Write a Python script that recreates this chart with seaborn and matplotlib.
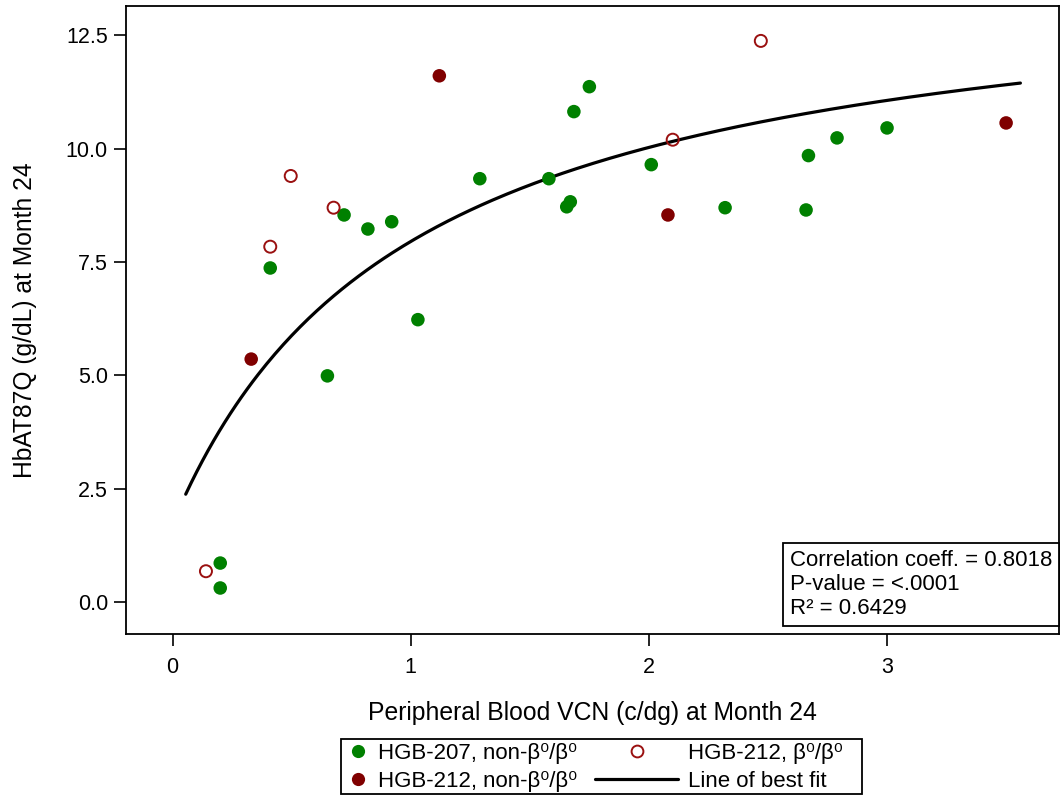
import numpy as np
import matplotlib
matplotlib.use("Agg")
import matplotlib.pyplot as plt
import seaborn as sns
from matplotlib.lines import Line2D
from matplotlib.patches import Rectangle

# ---- data ----
g207_x = [0.20, 0.20, 0.41, 0.65, 0.72, 0.82, 0.92, 1.03, 1.29, 1.58, 1.655, 1.67, 1.685, 1.75,
          2.01, 2.32, 2.66, 2.67, 2.79, 3.00]
g207_y = [0.86, 0.31, 7.37, 4.99, 8.54, 8.23, 8.39, 6.23, 9.34, 9.34, 8.72, 8.83, 10.82, 11.37,
          9.65, 8.70, 8.65, 9.85, 10.24, 10.46]
g212n_x = [0.33, 1.12, 2.08, 3.50]
g212n_y = [5.36, 11.61, 8.54, 10.57]
g212b_x = [0.14, 0.41, 0.496, 0.676, 2.10, 2.47]
g212b_y = [0.68, 7.84, 9.40, 8.70, 10.20, 12.38]

# line of best fit  y = a + b * x / (k + x)
fit_a = 1.73
fit_b = 12.45
fit_k = 1.0
fit_xmin, fit_xmax = 0.055, 3.56

stats_text = ["Correlation coeff. = 0.8018", "P-value = <.0001", "R\u00b2 = 0.6429"]
legend_labels = ["HGB-207, non-\u03b2\u2070/\u03b2\u2070", "HGB-212, non-\u03b2\u2070/\u03b2\u2070",
                 "HGB-212, \u03b2\u2070/\u03b2\u2070", "Line of best fit"]
x_ticks = [0, 1, 2, 3]
y_ticks = [0.0, 2.5, 5.0, 7.5, 10.0, 12.5]

GREEN = "#008000"
DRED = "#800000"
ODRED = "#9a1010"

W, H = 1061, 795

sns.set_style("ticks")
plt.rcParams["font.family"] = ["Liberation Sans", "DejaVu Sans"]
plt.rcParams["text.color"] = "black"
plt.rcParams["axes.labelcolor"] = "black"
plt.rcParams["xtick.color"] = "black"
plt.rcParams["ytick.color"] = "black"

fig = plt.figure(figsize=(W / 100, H / 100), dpi=100)
ax_l, ax_r, ax_t, ax_b = 125.7, 1058.5, 6, 634
ax = fig.add_axes([ax_l / W, 1 - ax_b / H, (ax_r - ax_l) / W, (ax_b - ax_t) / H])

fx = np.linspace(fit_xmin, fit_xmax, 300)
fy = fit_a + fit_b * fx / (fit_k + fx)
sns.lineplot(x=fx, y=fy, ax=ax, color="black", lw=2.3, zorder=2)

sns.scatterplot(x=g207_x, y=g207_y, ax=ax, color=GREEN, s=95, edgecolor="none", zorder=3)
sns.scatterplot(x=g212n_x, y=g212n_y, ax=ax, color=DRED, s=95, edgecolor="none", zorder=3)
sns.scatterplot(x=g212b_x, y=g212b_y, ax=ax, facecolor="none", edgecolor=ODRED, linewidth=1.4,
                s=75, zorder=3)

ax.set_xlim(-0.197, 3.72)
ax.set_ylim(-0.705, 13.15)
ax.set_xticks(x_ticks)
ax.set_yticks(y_ticks)
ax.set_xticklabels([str(t) for t in x_ticks])
ax.set_yticklabels([f"{t:.1f}" for t in y_ticks])
ax.tick_params(axis="both", labelsize=15.5, length=8.5, width=1.2, colors="black")
ax.tick_params(axis="y", pad=4.3)
ax.tick_params(axis="x", pad=8.3)
for sp in ax.spines.values():
    sp.set_linewidth(1.3)
    sp.set_color("black")
    sp.set_visible(True)

ax.set_xlabel("Peripheral Blood VCN (c/dg) at Month 24", fontsize=17.8, labelpad=16)
ax.set_ylabel("HbAT87Q (g/dL) at Month 24", fontsize=17.7)
ax.yaxis.set_label_coords((37 - ax_l) / (ax_r - ax_l), 0.5)

# statistics box
ax.text((790 - ax_l) / (ax_r - ax_l), (ax_b - 619) / (ax_b - ax_t), "\n".join(stats_text),
        transform=ax.transAxes, ha="left", va="bottom", multialignment="left",
        fontsize=16, linespacing=1.2, zorder=5, color="black",
        bbox=dict(boxstyle="square,pad=0.3", facecolor="white", edgecolor="black", linewidth=1.3))

# legend: two frameless legends inside one frame
FS = 16
fs_px = FS * 100 / 72
h1 = 1.0
LS = 0.3
TOP = 743
legA = fig.legend(
    [Line2D([], [], marker="o", ls="none", color=GREEN, markersize=9.5, markeredgewidth=0),
     Line2D([], [], marker="o", ls="none", color=DRED, markersize=9.5, markeredgewidth=0)],
    legend_labels[:2], loc="upper left",
    bbox_to_anchor=((358 - h1 / 2 * fs_px) / W, 1 - TOP / H), fontsize=FS, frameon=False,
    handlelength=h1, handletextpad=0.4, borderpad=0, labelspacing=LS, borderaxespad=0,
    labelcolor="black")
h2 = 83 / fs_px
legB = fig.legend(
    [Line2D([], [], marker="o", ls="none", markerfacecolor="none", markeredgecolor=ODRED,
            markersize=8.5, markeredgewidth=1.4),
     Line2D([], [], color="black", lw=2.3)],
    legend_labels[2:], loc="upper left",
    bbox_to_anchor=(595 / W, 1 - TOP / H), fontsize=FS, frameon=False,
    handlelength=h2, handletextpad=10 / fs_px, borderpad=0, labelspacing=LS, borderaxespad=0,
    labelcolor="black")
fig.add_artist(Rectangle((341 / W, 1 - 794 / H), (862 - 341) / W, (794 - 739) / H,
                         transform=fig.transFigure, facecolor="none", edgecolor="black",
                         linewidth=1.3))

fig.savefig("out.png", dpi=100)
